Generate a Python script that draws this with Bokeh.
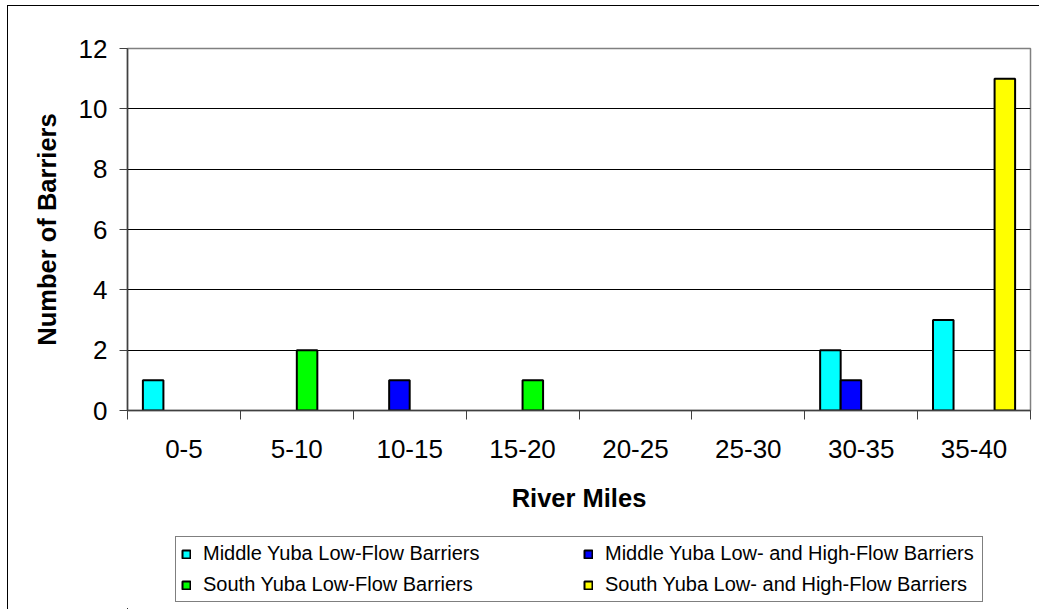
import numpy as np
from bokeh.plotting import figure
from bokeh.layouts import column
from bokeh.models import Range1d, FixedTicker, Legend, LegendItem, ColumnDataSource, Div
from bokeh.embed import file_html
from bokeh.resources import INLINE

categories = ["0-5", "5-10", "10-15", "15-20", "20-25", "25-30", "30-35", "35-40"]
series_names = [
    "Middle Yuba Low-Flow Barriers",
    "Middle Yuba Low- and High-Flow Barriers",
    "South Yuba Low-Flow Barriers",
    "South Yuba Low- and High-Flow Barriers",
]
middle_low = [1, 0, 0, 0, 0, 0, 2, 3]
middle_low_high = [0, 0, 1, 0, 0, 0, 1, 0]
south_low = [0, 2, 0, 1, 0, 0, 0, 0]
south_low_high = [0, 0, 0, 0, 0, 0, 0, 11]
series_values = [middle_low, middle_low_high, south_low, south_low_high]
colors = ["#00FFFF", "#0000FF", "#00FF00", "#FFFF00"]
y_ticks = [0, 2, 4, 6, 8, 10, 12]

FONT = "Liberation Sans"
n_cat = len(categories)
n_ser = len(series_values)
bar_w = 1.0 / (n_ser + 1.5)          # Excel-like gap width 150%
offsets = (np.arange(n_ser) - (n_ser - 1) / 2.0) * bar_w

W = 1039
H_CHART = 530
H_LEG = 79

p = figure(width=W, height=H_CHART, output_backend="svg", toolbar_location=None,
           x_range=Range1d(0, n_cat), y_range=Range1d(0, 12),
           min_border_left=127, min_border_right=9, min_border_top=48, min_border_bottom=120)
p.background_fill_color = "white"
p.border_fill_color = "white"
p.outline_line_color = "#808080"
p.outline_line_width = 1.5

centers = np.arange(n_cat) + 0.5
sources = []
for i in range(n_ser):
    vals = np.array(series_values[i], dtype=float)
    mask = vals > 0
    src = ColumnDataSource(dict(x=(centers + offsets[i])[mask], top=vals[mask]))
    sources.append(src)
    p.vbar(x="x", top="top", bottom=0, width=bar_w, source=src,
           fill_color=colors[i], line_color="black", line_width=2)

# grid
p.xgrid.visible = False
p.ygrid.grid_line_color = "black"
p.ygrid.grid_line_width = 1
p.ygrid.ticker = FixedTicker(ticks=y_ticks)

# x axis: labels at centres, tick marks at category boundaries
xa = p.xaxis[0]
xa.ticker = FixedTicker(ticks=list(centers), minor_ticks=list(range(n_cat + 1)))
xa.major_label_overrides = {float(c): lab for c, lab in zip(centers, categories)}
xa.major_tick_line_color = None
xa.minor_tick_line_color = "#404040"
xa.minor_tick_in = 0
xa.minor_tick_out = 9
xa.axis_line_color = "#404040"
xa.axis_line_width = 1.5
xa.major_label_text_font = FONT
xa.major_label_text_font_size = "26px"
xa.major_label_text_color = "black"
xa.major_label_standoff = 20
xa.axis_label = "River Miles"
xa.axis_label_text_font = FONT
xa.axis_label_text_font_size = "25.5px"
xa.axis_label_text_font_style = "bold"
xa.axis_label_text_color = "black"
xa.axis_label_standoff = 23

ya = p.yaxis[0]
ya.ticker = FixedTicker(ticks=y_ticks)
ya.major_tick_line_color = "#404040"
ya.major_tick_in = 0
ya.major_tick_out = 8
ya.minor_tick_line_color = None
ya.axis_line_color = "#404040"
ya.axis_line_width = 1.5
ya.major_label_text_font = FONT
ya.major_label_text_font_size = "26px"
ya.major_label_text_color = "black"
ya.major_label_standoff = 12
ya.axis_label = "Number of Barriers"
ya.axis_label_text_font = FONT
ya.axis_label_text_font_size = "25.5px"
ya.axis_label_text_font_style = "bold"
ya.axis_label_text_color = "black"
ya.axis_label_standoff = 15

# legend panel (separate figure so that the legend box is not clipped);
# its ranges keep the proxy bars outside the visible area
q = figure(width=W, height=H_LEG, output_backend="svg", toolbar_location=None,
           x_range=Range1d(20, 21), y_range=Range1d(20, 21),
           x_axis_type=None, y_axis_type=None,
           min_border_left=0, min_border_right=0, min_border_top=0, min_border_bottom=0)
q.grid.visible = False
q.outline_line_color = None
q.background_fill_color = "white"
q.border_fill_color = "white"
items = []
for i in range(n_ser):
    r = q.vbar(x="x", top="top", bottom=0, width=bar_w, source=sources[i],
               fill_color=colors[i], line_color="black", line_width=2)
    items.append(LegendItem(label=series_names[i], renderers=[r]))

legend = Legend(items=items, location=(48, 7), orientation="horizontal", ncols=2,
                label_text_font=FONT, label_text_font_size="20px", label_text_color="black",
                glyph_width=10, glyph_height=10, label_standoff=12, label_width=372,
                label_height=22, spacing=8, padding=5, margin=0,
                border_line_color="black", border_line_width=1,
                background_fill_color="white", background_fill_alpha=1)
q.add_layout(legend, "center")

# outer chart border (top and left edges visible in the window)
frame_div = Div(text='<div style="position:fixed;left:7px;top:5px;width:1100px;height:700px;'
                     'border-top:1.5px solid black;border-left:1.5px solid black;'
                     'pointer-events:none;"></div>',
                width=0, height=0)

layout = column(p, q, frame_div, spacing=0)
open("out.html", "w").write(file_html(layout, INLINE))
